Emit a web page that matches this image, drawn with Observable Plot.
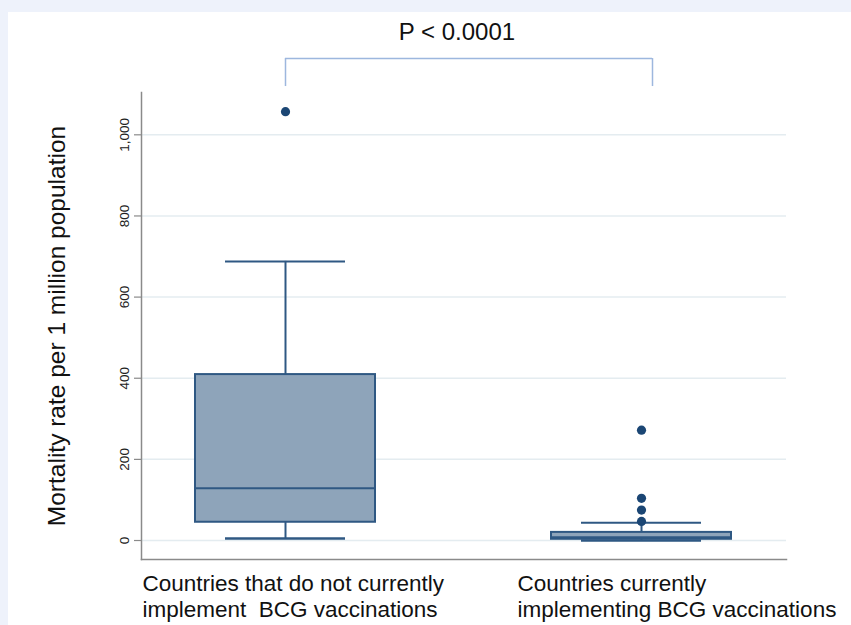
<!DOCTYPE html>
<html>
<head>
<meta charset="utf-8">
<script src="https://cdn.jsdelivr.net/npm/d3@7"></script>
<script src="https://cdn.jsdelivr.net/npm/@observablehq/plot@0.6"></script>
<style>
  html, body { margin: 0; padding: 0; }
  body { width: 851px; height: 625px; background: #eef2fb; position: relative; overflow: hidden; }
  #panel { position: absolute; left: 8px; top: 12px; width: 843px; height: 613px; background: #ffffff; }
  #panel svg { display: block; }
</style>
</head>
<body>
<div id="panel"></div>
<script>
// ---- data ----
const categories = [
  "Countries that do not currently\nimplement  BCG vaccinations",
  "Countries currently\nimplementing BCG vaccinations"
];
const lowerWhisker = [5, 0];
const q1 = [45, 3];
const median = [129, 8];
const q3 = [409, 20];
const upperWhisker = [688, 44];
const outliers = [[1057], [272, 104, 75, 47]];
const yTicks = [0, 200, 400, 600, 800, 1000];
const yLabel = "Mortality rate per 1 million population";
const pLabel = "P < 0.0001";
const bracketLow = 1119;
const bracketHigh = 1188;

// tables built from the arrays
const boxes = categories.map((c, i) => ({
  cat: c, lo: lowerWhisker[i], q1: q1[i], med: median[i], q3: q3[i], hi: upperWhisker[i]
}));
const points = categories.flatMap((c, i) => outliers[i].map(v => ({cat: c, v})));

const boxFill = "#8ea4ba";
const boxStroke = "#2f5883";
const dotFill = "#1b4674";
const axisGray = "#8a8a8a";
const font = "'Liberation Sans', Arial, Helvetica, sans-serif";

const chart = Plot.plot({
  width: 843,
  height: 613,
  marginLeft: 133,
  marginRight: 65,
  marginTop: 80,
  marginBottom: 66,
  style: {fontFamily: font, background: "white", overflow: "visible"},
  x: {domain: categories, type: "band", paddingInner: 0.494, paddingOuter: 0.152, axis: null},
  y: {domain: [-46.8, 1104.3], axis: null},
  marks: [
    Plot.gridY(yTicks, {stroke: "#e4ecf0", strokeOpacity: 1, strokeWidth: 1.5}),
    Plot.frame({anchor: "left", stroke: axisGray, strokeWidth: 1.5}),
    Plot.frame({anchor: "bottom", stroke: axisGray, strokeWidth: 1.5}),
    Plot.axisY(yTicks, {tickSize: 7, tickFormat: () => "", stroke: axisGray, strokeWidth: 1.2, label: null}),
    Plot.text(yTicks, {
      y: d => d, text: d => d3.format(",")(d), frameAnchor: "left", dx: -13,
      rotate: -90, textAnchor: "middle", lineAnchor: "bottom", fontSize: 13.5, fill: "#222"
    }),
    Plot.text([yLabel], {
      text: d => d, frameAnchor: "left", dx: -77, rotate: -90, textAnchor: "middle",
      lineAnchor: "bottom", fontSize: 24.5, fill: "#111"
    }),
    // whiskers
    Plot.ruleX(boxes, {x: "cat", y1: "q3", y2: "hi", stroke: boxStroke, strokeWidth: 2}),
    Plot.ruleX(boxes, {x: "cat", y1: "lo", y2: "q1", stroke: boxStroke, strokeWidth: 2}),
    Plot.tickY(boxes, {x: "cat", y: "hi", insetLeft: 30, insetRight: 30, stroke: boxStroke, strokeWidth: 2}),
    Plot.tickY(boxes, {x: "cat", y: "lo", insetLeft: 30, insetRight: 30, stroke: boxStroke, strokeWidth: 2.5}),
    // boxes
    Plot.barY(boxes, {x: "cat", y1: "q1", y2: "q3", fill: boxFill, stroke: boxStroke, strokeWidth: 2}),
    Plot.tickY(boxes, {x: "cat", y: "med", stroke: boxStroke, strokeWidth: 2}),
    // outliers
    Plot.dot(points, {x: "cat", y: "v", r: 4.6, fill: dotFill, stroke: "none"}),
    // significance bracket
    Plot.ruleY([0], {x1: () => categories[0], x2: () => categories[1], y: () => bracketHigh,
      insetLeft: 90, insetRight: 79, stroke: "#9db7de", strokeWidth: 1.5}),
    Plot.ruleX([categories[0]], {x: d => d, y1: () => bracketLow, y2: () => bracketHigh, stroke: "#9db7de", strokeWidth: 1.5}),
    Plot.ruleX([categories[1]], {x: d => d, y1: () => bracketLow, y2: () => bracketHigh, dx: 11, stroke: "#9db7de", strokeWidth: 1.5}),
    Plot.text([pLabel], {text: d => d, frameAnchor: "top", dx: -7, dy: -53, lineAnchor: "bottom",
      fontSize: 24, fill: "#111", fontFamily: "'Liberation Sans Narrow', 'Liberation Sans', Arial, sans-serif"}),
    // category labels
    Plot.text([categories[0]], {x: d => d, text: d => d, frameAnchor: "bottom", textAnchor: "start",
      lineAnchor: "top", dx: -143, dy: 14, lineHeight: 1.12, fontSize: 22.5, fill: "#111"}),
    Plot.text([categories[1]], {x: d => d, text: d => d, frameAnchor: "bottom", textAnchor: "start",
      lineAnchor: "top", dx: -124, dy: 14, lineHeight: 1.12, fontSize: 22.5, fill: "#111"})
  ]
});
document.getElementById("panel").appendChild(chart);
</script>
</body>
</html>
